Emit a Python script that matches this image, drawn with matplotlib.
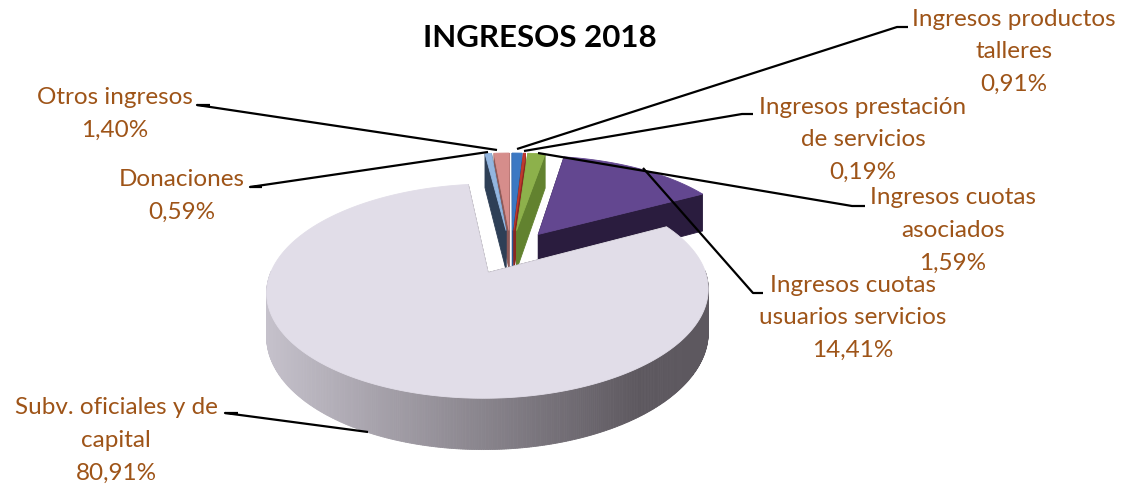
import numpy as np
import matplotlib
matplotlib.use("Agg")
import matplotlib.pyplot as plt
from matplotlib.patches import Polygon
from matplotlib.colors import to_rgb

# ---------------- data ----------------
categories = [
    "Ingresos productos talleres",
    "Ingresos prestación de servicios",
    "Ingresos cuotas asociados",
    "Ingresos cuotas usuarios servicios",
    "Subv. oficiales y de capital",
    "Donaciones",
    "Otros ingresos",
]
values = [0.91, 0.19, 1.59, 14.41, 80.91, 0.59, 1.40]
pct_labels = ["0,91%", "0,19%", "1,59%", "14,41%", "80,91%", "0,59%", "1,40%"]
label_lines = [
    ["Ingresos productos", "talleres"],
    ["Ingresos prestación", "de servicios"],
    ["Ingresos cuotas", "asociados"],
    ["Ingresos cuotas", "usuarios servicios"],
    ["Subv. oficiales y de", "capital"],
    ["Donaciones"],
    ["Otros ingresos"],
]
title = "INGRESOS 2018"

top_colors = ["#3B78C3", "#C0392E", "#8DB14B", "#634790", "#E1DDE8", "#93B6E0", "#D68D8B"]
side_colors = ["#2A5A95", "#8B2820", "#62822F", "#2A1C3E", "#5D585F", "#2E3F56", "#8F5A58"]

# ---------------- layout ----------------
label_pos = [(1014, 19), (863, 107), (953, 198), (853, 285), (116, 408), (182, 180), (115, 98)]
leaders = [
    [(908, 27), (897, 27), (517, 149)],
    [(753, 114), (742, 114), (524, 151)],
    [(865, 206), (852, 206), (538, 153)],
    [(763, 293), (753, 293), (643, 168)],
    [(238, 413), (225, 413), (368, 432)],
    [(262, 187), (250, 187), (488, 152)],
    [(210, 105), (197, 105), (497, 150)],
]
LINE_STEP = 32.5
TEXT_COLOR = "#9E5418"

CX, CY, RX, RY, D, P, E = 511, 252, 210, 97, 41, 0.167, 0.23

fig = plt.figure(figsize=(11.26, 4.88), dpi=100)
ax = fig.add_axes([0, 0, 1, 1])
ax.set_xlim(0, 1126)
ax.set_ylim(488, 0)
ax.axis("off")


def proj(u, v, z):
    s = 1.0 / (1.0 - P * v)
    return CX + RX * u * s, CY + (RY * v + D * z) * s


def shade_main(x):
    c0 = np.array(to_rgb("#C6C2CC"))
    c1 = np.array(to_rgb("#5D585F"))
    t = np.clip((x - 265) / (640 - 265), 0, 1)
    return tuple(c0 + (c1 - c0) * t)


total = sum(values)
bounds = np.concatenate([[0], np.cumsum(values)]) / total * 360.0

slices = []
for i in range(len(values)):
    t1, t2 = bounds[i], bounds[i + 1]
    m = np.radians((t1 + t2) / 2)
    ou, ov = E * np.sin(m), -E * np.cos(m)
    slices.append((ov, i, t1, t2, ou))

z = 1
for ov, i, t1, t2, ou in sorted(slices):
    n = max(3, int((t2 - t1) / 0.5) + 2)
    th = np.radians(np.linspace(t1, t2, n))
    au = ou + np.sin(th)
    av = ov - np.cos(th)
    faces = []
    # radial faces
    for k in (0, -1):
        pts = [proj(ou, ov, 0), proj(au[k], av[k], 0), proj(au[k], av[k], 1), proj(ou, ov, 1)]
        faces.append(((ov + av[k]) / 2, pts, side_colors[i]))
    # outer side
    for j in range(n - 1):
        mid = (th[j] + th[j + 1]) / 2
        if np.cos(mid) < 0.02:
            pts = [proj(au[j], av[j], 0), proj(au[j + 1], av[j + 1], 0),
                   proj(au[j + 1], av[j + 1], 1), proj(au[j], av[j], 1)]
            if i == 4:
                col = shade_main((pts[0][0] + pts[1][0]) / 2)
            else:
                col = side_colors[i]
            faces.append(((av[j] + av[j + 1]) / 2 + 0.5, pts, col))
    faces.sort(key=lambda f: f[0])
    for _, pts, col in faces:
        ax.add_patch(Polygon(pts, closed=True, facecolor=col, edgecolor=col,
                             linewidth=0.6, zorder=z))
        z += 1
    top = [proj(ou, ov, 0)] + [proj(a, b, 0) for a, b in zip(au, av)]
    ax.add_patch(Polygon(top, closed=True, facecolor=top_colors[i],
                         edgecolor=top_colors[i], linewidth=0.6, zorder=z))
    z += 1

# leader lines
for pts in leaders:
    xs, ys = zip(*pts)
    ax.plot(xs, ys, color="black", lw=1.6, zorder=500, solid_capstyle="butt")

# labels
FONT = "Lato"
for i, (x, y) in enumerate(label_pos):
    lines = label_lines[i] + [pct_labels[i]]
    for k, s in enumerate(lines):
        ax.text(x, y + k * LINE_STEP, s, ha="center", va="center", fontsize=17.5,
                color=TEXT_COLOR, family=FONT, zorder=600)

ax.text(540, 38, title, ha="center", va="center", fontsize=22.5, fontweight="bold",
        color="black", family=FONT, zorder=600)

fig.savefig("out.png", dpi=100)
